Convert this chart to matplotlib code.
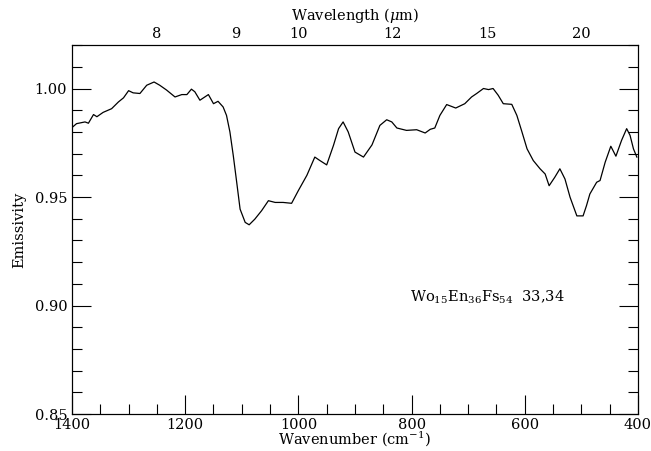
import matplotlib
matplotlib.use("Agg")
import matplotlib.pyplot as plt
from matplotlib.ticker import MultipleLocator, FixedLocator

plt.rcParams['font.family'] = ['DejaVu Serif']
plt.rcParams['mathtext.fontset'] = 'dejavuserif'

wavenumber = [1400, 1392, 1377, 1371, 1362, 1356, 1345, 1330, 1318, 1309, 1300, 1292, 1280,
              1268, 1255, 1245, 1233, 1218, 1206, 1197, 1189, 1183, 1174, 1159, 1150, 1142,
              1133, 1127, 1121, 1115, 1109, 1103, 1094, 1087, 1077, 1065, 1053, 1041, 1027,
              1012, 1000, 985, 971, 962, 950, 938, 929, 921, 912, 900, 885, 870, 856, 844,
              835, 826, 809, 791, 776, 767, 759, 750, 738, 722, 706, 694, 685, 673, 664, 656,
              647, 638, 623, 614, 605, 596, 585, 573, 564, 557, 547, 538, 529, 520, 508, 497,
              491, 485, 473, 467, 458, 448, 439, 429, 420, 414, 408, 402]
emissivity = [0.982, 0.9838, 0.9846, 0.984, 0.988, 0.987, 0.989, 0.9907, 0.9938, 0.9957, 0.999,
              0.998, 0.9977, 1.0015, 1.003, 1.0015, 0.9993, 0.9961, 0.9972, 0.9972, 0.9997,
              0.9985, 0.9946, 0.9972, 0.993, 0.9941, 0.9915, 0.9876, 0.980, 0.969, 0.9568,
              0.9444, 0.9383, 0.9372, 0.9398, 0.9437, 0.9483, 0.9475, 0.9475, 0.9471, 0.953,
              0.960, 0.9684, 0.9668, 0.9648, 0.9738, 0.9815, 0.9846, 0.980, 0.9707, 0.9684,
              0.974, 0.983, 0.9856, 0.9846, 0.9818, 0.9807, 0.981, 0.9795, 0.9812, 0.9818,
              0.9876, 0.9926, 0.991, 0.993, 0.9961, 0.9977, 1.000, 0.9995, 1.000, 0.9969,
              0.993, 0.9927, 0.9876, 0.980, 0.9722, 0.9668, 0.963, 0.9606, 0.9552, 0.9591,
              0.963, 0.9583, 0.9499, 0.9413, 0.9413, 0.946, 0.9514, 0.9568, 0.9576, 0.966,
              0.9734, 0.9688, 0.9761, 0.9815, 0.9784, 0.9722, 0.9684]

wavelength_ticks = [8, 9, 10, 12, 15, 20]
x_ticks = [1400, 1200, 1000, 800, 600, 400]
y_ticks = [0.85, 0.90, 0.95, 1.00]

fig = plt.figure(figsize=(6.51, 4.51), dpi=100)
ax = fig.add_axes([0.1106, 0.082, 0.8694, 0.818])
ax.plot(wavenumber, emissivity, color='black', lw=0.9)
ax.set_xlim(1400, 400)
ax.set_ylim(0.85, 1.02)
ax.set_xticks(x_ticks)
ax.set_yticks(y_ticks)
ax.set_yticklabels([f"{v:.2f}" for v in y_ticks])
ax.xaxis.set_minor_locator(MultipleLocator(50))
ax.yaxis.set_minor_locator(MultipleLocator(0.01))
ax.tick_params(which='both', direction='in', top=True, right=True, labelsize=10.5, width=0.8)
ax.tick_params(which='major', length=14)
ax.tick_params(which='minor', length=7)
ax.tick_params(axis='x', pad=3)
for s in ax.spines.values():
    s.set_linewidth(0.8)
ax.set_xlabel('Wavenumber (cm$^{-1}$)', fontsize=10.5, labelpad=-2)
ax.set_ylabel('Emissivity', fontsize=10.5, labelpad=6)

ax2 = ax.twiny()
ax2.set_xlim(ax.get_xlim())
ax2.xaxis.set_major_locator(FixedLocator([1e4 / w for w in wavelength_ticks]))
ax2.set_xticklabels([str(w) for w in wavelength_ticks])
ax2.xaxis.set_minor_locator(FixedLocator([]))
ax2.tick_params(axis='x', length=0, pad=3, labelsize=10.5)
ax2.set_xlabel('Wavelength ($\\mu$m)', fontsize=10.5, labelpad=5)

ax.text(803, 0.902, 'Wo$_{15}$En$_{36}$Fs$_{54}$  33,34', fontsize=10.5, ha='left', va='baseline')

fig.savefig('out.png', dpi=100)
